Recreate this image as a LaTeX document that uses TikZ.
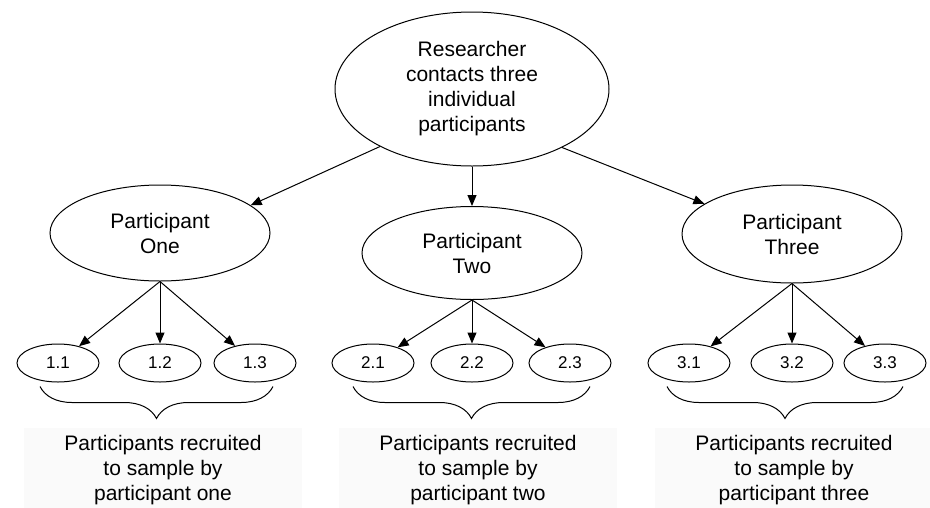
\documentclass[tikz,border=0pt]{standalone}
\usepackage{fontspec}
\setmainfont{Liberation Sans}
\usetikzlibrary{arrows.meta,shapes.geometric,decorations.pathreplacing}

\begin{document}
\begin{tikzpicture}[x=1pt,y=-1pt,line width=1pt,
	bubble/.style={draw,ellipse,inner sep=0pt,align=center,font=\fontsize{21}{25}\selectfont},
	twig/.style={draw,ellipse,inner sep=0pt,minimum width=82pt,minimum height=38pt,font=\fontsize{17}{20}\selectfont},
	note/.style={fill=black!2,align=center,inner xsep=40pt,inner ysep=7pt,minimum height=84pt,font=\fontsize{21}{25}\selectfont},
	link/.style={-{Triangle[length=11pt,width=9pt]}},
	brace/.style={decorate,decoration={brace,mirror,amplitude=32pt}}]
	\useasboundingbox (0,0) rectangle (930,507);

	%researcher
	\node[bubble,minimum width=274pt,minimum height=154pt] (top) at (472,89)
	  {Researcher\\contacts three\\individual\\participants};

	%participants
	\node[bubble,minimum width=220pt,minimum height=96pt] (p1) at (160,233) {Participant\\One};
	\node[bubble,minimum width=220pt,minimum height=93pt] (p2) at (472,253) {Participant\\Two};
	\node[bubble,minimum width=220pt,minimum height=98pt] (p3) at (792,234) {Participant\\Three};

	%recruits
	\node[twig] (c11) at (58,363) {1.1};
	\node[twig] (c12) at (160,363) {1.2};
	\node[twig] (c13) at (255,363) {1.3};
	\node[twig] (c21) at (373,363) {2.1};
	\node[twig] (c22) at (472,363) {2.2};
	\node[twig] (c23) at (570,363) {2.3};
	\node[twig] (c31) at (689,363) {3.1};
	\node[twig] (c32) at (792,363) {3.2};
	\node[twig] (c33) at (885,363) {3.3};

	%arrows
	\draw[link] (top.212) -- (p1.17);
	\draw[link] (top.south) -- (p2.north);
	\draw[link] (top.327) -- (p3.161);
	\draw[link] (p1.south) -- (c11);
	\draw[link] (p1.south) -- (c12.north);
	\draw[link] (p1.south) -- (c13);
	\draw[link] (p2.south) -- (c21);
	\draw[link] (p2.south) -- (c22.north);
	\draw[link] (p2.south) -- (c23);
	\draw[link] (p3.south) -- (c31);
	\draw[link] (p3.south) -- (c32.north);
	\draw[link] (p3.south) -- (c33);

	%braces
	\draw[brace] ([shift={(-18,4)}]c11.south) -- ([shift={(18,4)}]c13.south);
	\draw[brace] ([shift={(-20,4)}]c21.south) -- ([shift={(20,4)}]c23.south);
	\draw[brace] ([shift={(-22,4)}]c31.south) -- ([shift={(18,4)}]c33.south);

	%labels
	\node[note] (n1) at (163,470) {Participants recruited\\to sample by\\participant one};
	\node[note] (n2) at (478,470) {Participants recruited\\to sample by\\participant two};
	\node[note] (n3) at (794,470) {Participants recruited\\to sample by\\participant three};
\end{tikzpicture}
\end{document}
